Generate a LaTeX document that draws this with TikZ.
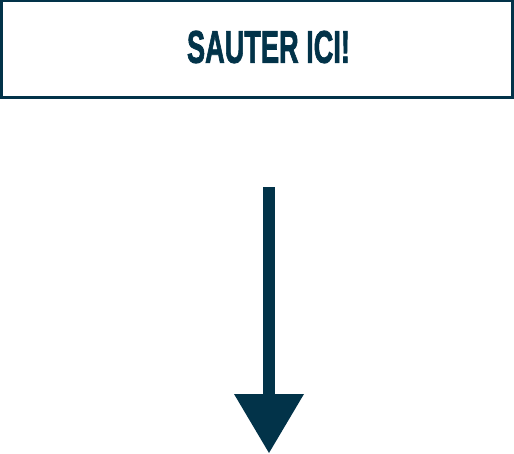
\documentclass[tikz,border=0pt]{standalone}
\usepackage{fontspec}
\setmainfont{Liberation Sans}
\newfontfamily\heavyfont[FakeBold=2]{Liberation Sans Bold}
\usepackage{graphicx}
\definecolor{navy}{HTML}{023349}
\tikzset{
  framebox/.style={draw=navy, line width=3pt, fill=white, inner sep=0pt, minimum width=511pt, minimum height=97pt},
  label text/.style={text=navy, inner sep=0pt},
  arrowshape/.style={fill=navy, draw=none}
}
\begin{document}
\begin{tikzpicture}[x=1pt,y=-1pt]
\useasboundingbox (0,0) rectangle (514,454);
\node[framebox] (box) at (257,49.5) {};
\node[label text] (lbl) at (268.5,47) {\resizebox{163pt}{32pt}{\heavyfont SAUTER ICI!}};
\coordinate (top) at (269,187);
\coordinate (tip) at (269,453);
\fill[arrowshape] (263,187) rectangle (275,396);
\fill[arrowshape] (234,394) -- (304,394) -- (tip) -- cycle;
\end{tikzpicture}
\end{document}
